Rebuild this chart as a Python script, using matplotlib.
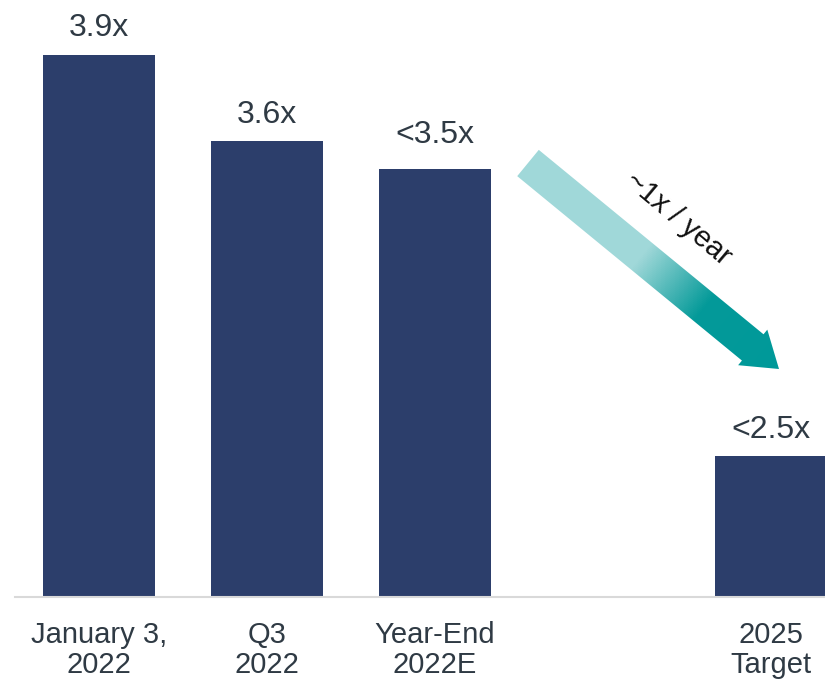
import numpy as np
import matplotlib.pyplot as plt
from matplotlib.patches import Polygon
from matplotlib.colors import LinearSegmentedColormap

plt.rcParams['font.family'] = ['Liberation Sans', 'DejaVu Sans']

categorias = ['January 3,\n2022', 'Q3\n2022', 'Year-End\n2022E', '2025\nTarget']
posiciones = [0, 1, 2, 4]
valores = [3.9, 3.6, 3.5, 2.5]
etiquetas = ['3.9x', '3.6x', '<3.5x', '<2.5x']

COLOR_BARRA = '#2c3e6b'
COLOR_TEXTO = '#2f3a44'
# separacion extra de la etiqueta (en puntos), la de Year-End va mas alta
extra_etiqueta = {'<3.5x': 6}

fig = plt.figure(figsize=(8.25, 6.79), dpi=100)
ax = fig.add_axes([15 / 825, 82 / 679, 1 - 15 / 825, 597 / 679])

barras = ax.bar(posiciones, valores, width=0.667, color=COLOR_BARRA)
for b, et in zip(barras, etiquetas):
    ax.annotate(et, (b.get_x() + b.get_width() / 2, b.get_height()),
                xytext=(0, 8 + extra_etiqueta.get(et, 0)), textcoords='offset points',
                ha='center', va='bottom', fontsize=23, color=COLOR_TEXTO)

ax.set_xlim(-0.5, 4.32)
ax.set_ylim(2.01, 4.09)
ax.set_xticks(posiciones)
ax.set_xticklabels(categorias, fontsize=21, color=COLOR_TEXTO, linespacing=1.12)
ax.tick_params(axis='x', length=0, pad=17)
ax.set_yticks([])
for lado in ['top', 'right', 'left']:
    ax.spines[lado].set_visible(False)
ax.spines['bottom'].set_color('#d9d9d9')
ax.spines['bottom'].set_linewidth(1.5)

# flecha con degradado (coordenadas en pixeles de la figura)
ov = fig.add_axes([0, 0, 1, 1], facecolor='none')
ov.set_xlim(0, 825)
ov.set_ylim(679, 0)
ov.axis('off')

cola = np.array([528.0, 163.0])
punta = np.array([779.0, 369.0])
d = punta - cola
largo = np.hypot(*d)
u = d / largo
n = np.array([-u[1], u[0]])
ancho = 34 / 2
ancho_cabeza = 46 / 2
largo_cabeza = 34
base = punta - u * largo_cabeza
pts = [cola + n * ancho, base + n * ancho, base + n * ancho_cabeza, punta,
       base - n * ancho_cabeza, base - n * ancho, cola - n * ancho]
poly = Polygon(pts, closed=True, facecolor='none', edgecolor='none')
ov.add_patch(poly)

xx, yy = np.meshgrid(np.arange(480, 800), np.arange(120, 400))
t = ((xx - cola[0]) * u[0] + (yy - cola[1]) * u[1]) / largo
cmap = LinearSegmentedColormap.from_list('flecha', [(0, '#a0d8d9'), (0.45, '#a0d8d9'),
                                                    (0.7, '#049a99'), (1, '#009999')])
img = ov.imshow(np.clip(t, 0, 1), cmap=cmap, vmin=0, vmax=1,
                extent=(480, 800, 400, 120), interpolation='bilinear', aspect='auto')
img.set_clip_path(poly)

ov.text(678, 219, '~1x / year', rotation=-40, rotation_mode='anchor',
        ha='center', va='center', fontsize=21, color='#111111')

fig.savefig('out.png', dpi=100)
